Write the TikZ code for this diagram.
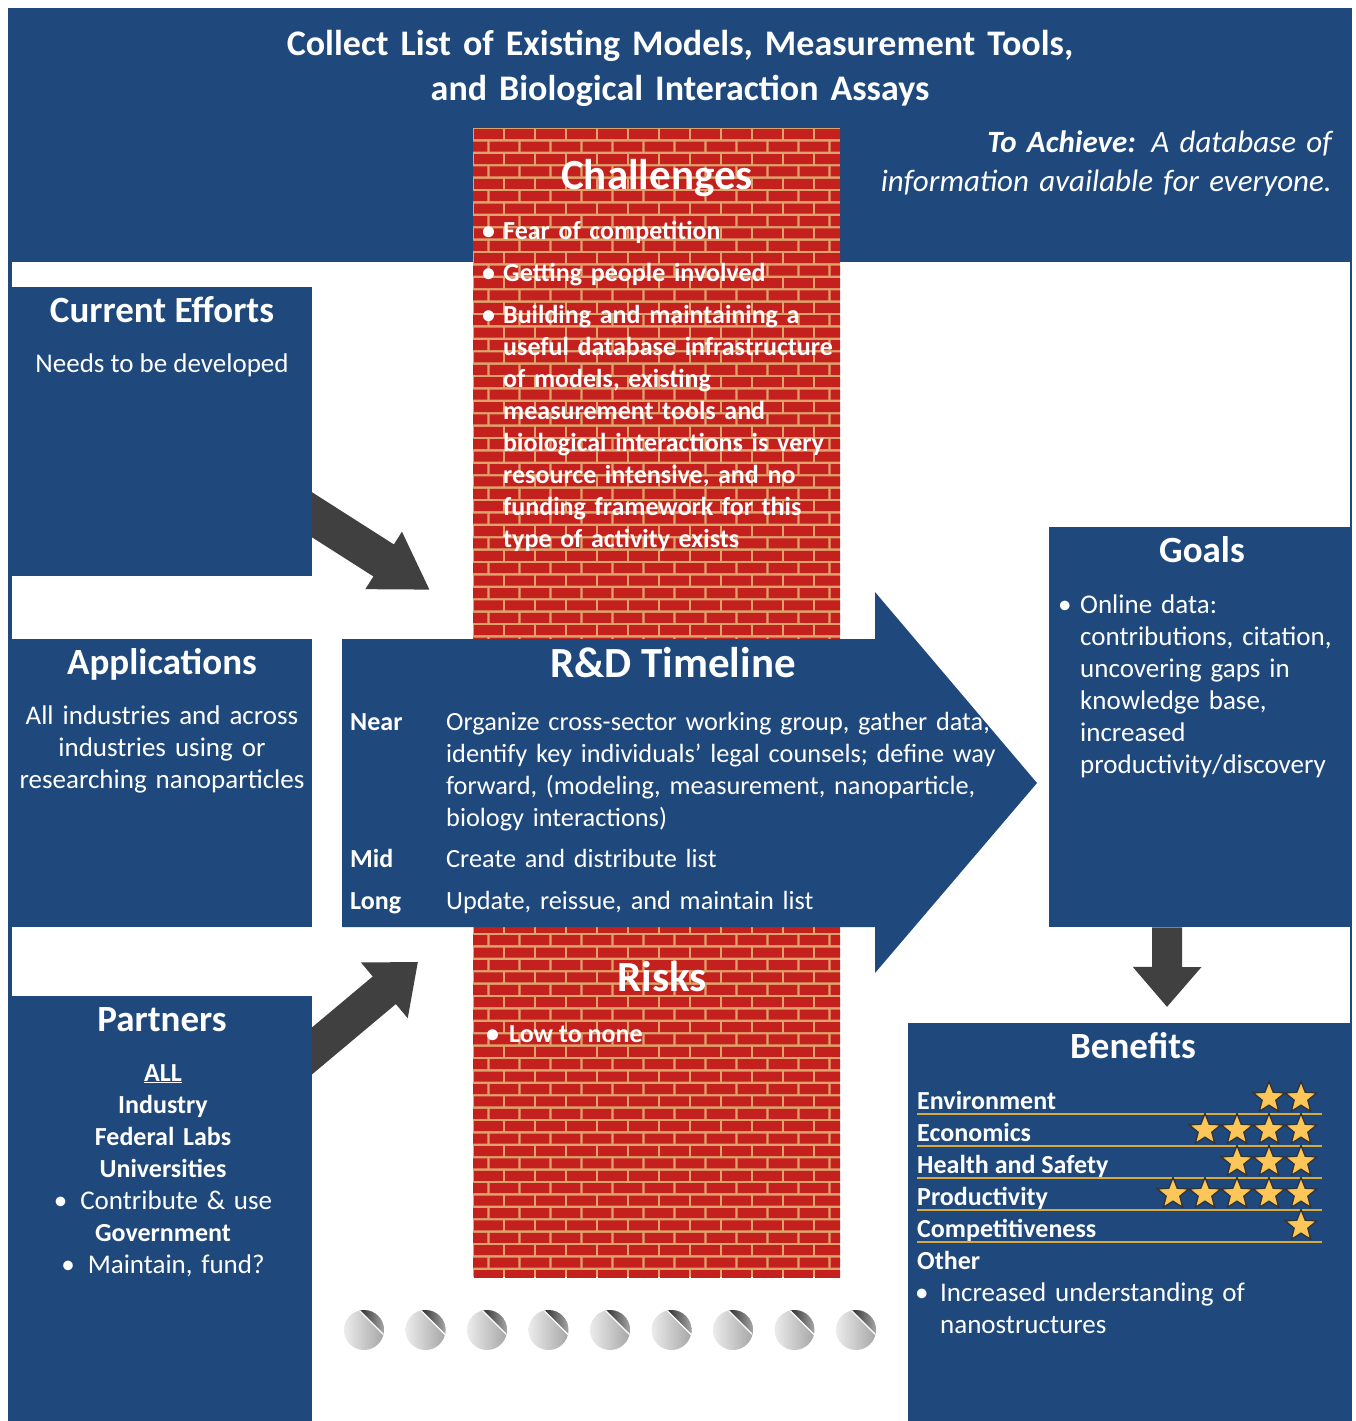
\documentclass[tikz,border=0pt]{standalone}
\usepackage{fontspec}
\setmainfont{Carlito}
\usetikzlibrary{arrows.meta,shapes.geometric}

\definecolor{navy}{RGB}{31,73,125}
\definecolor{brickred}{RGB}{196,32,30}
\definecolor{mortar}{RGB}{222,162,108}
\definecolor{arrowgray}{RGB}{64,64,64}
\definecolor{stargold}{RGB}{252,198,88}
\definecolor{rulegold}{RGB}{214,170,60}

\newcommand{\bigfont}{\fontsize{43}{50}\selectfont\bfseries}
\newcommand{\hdfont}{\fontsize{37}{44}\selectfont\bfseries}
\newcommand{\txtfont}{\fontsize{27}{32}\selectfont}
\newcommand{\boldfont}{\fontsize{26}{32}\selectfont\bfseries}
\newcommand{\bul}[1][21pt]{\makebox[#1][l]{\textbullet}}

\begin{document}
\begin{tikzpicture}[x=1pt,y=-1pt,
  panel/.style={fill=navy,anchor=north west,inner sep=0pt},
  heading/.style={text=white,font=\hdfont,anchor=base,inner sep=0pt},
  bigheading/.style={text=white,font=\bigfont,anchor=base,inner sep=0pt},
  body/.style={text=white,font=\txtfont,inner sep=0pt},
  fatarrow/.style={draw=arrowgray},
  benstar/.style={star,star points=5,star point ratio=2.3,minimum size=33pt,inner sep=0pt,fill=stargold,draw=black!80,line width=1.3pt}]
  \useasboundingbox (0,0) rectangle (1356,1421);
  \fill[white] (0,0) rectangle (1356,1421);

  % Banner and frame
  \node[panel,minimum width=1342pt,minimum height=254pt] (banner) at (8,8) {};
  \draw[navy,line width=4pt] (10,8) -- (10,1421);
  \draw[navy,line width=2.5pt] (1351,8) -- (1351,1421);
  \node[body,font=\fontsize{36}{45}\selectfont\bfseries,text width=1100pt,align=center,anchor=base] (title) at (680,56)
    {Collect List of Existing Models, Measurement Tools,\\ and Biological Interaction Assays};
  \node[body,font=\fontsize{31}{39}\selectfont\itshape,text width=600pt,align=right,anchor=base east] (achieve) at (1332,152)
    {{\bfseries To Achieve:} A database of\\ information available for everyone.};

  % Brick wall
  \begin{scope}
    \clip (473,128) rectangle (840,1277);
    \fill[mortar] (473,128) rectangle (840,1277);
    \foreach \r in {0,...,92}{
      \pgfmathsetmacro{\yy}{128+12.4*\r}
      \pgfmathsetmacro{\xo}{473-31+mod(\r,2)*15.5}
      \fill[brickred] \foreach \c in {0,...,13}{ ({\xo+31*\c+1.2},{\yy+1.2}) rectangle ++(28.6,10) };
    }
  \end{scope}

  % Challenges and risks
  \node[bigheading] (chal) at (657,189) {Challenges};
  \node[body,font=\boldfont,text width=360pt,align=left,anchor=base west] (chaltx) at (482,239)
    {\bul Fear of competition\\[10pt]
     \bul Getting people involved\\[10pt]
     \bul Building and maintaining a\\
     \hspace*{21pt}useful database infrastructure\\
     \hspace*{21pt}of models, existing\\
     \hspace*{21pt}measurement tools and\\
     \hspace*{21pt}biological interactions is very\\
     \hspace*{21pt}resource intensive, and no\\
     \hspace*{21pt}funding framework for this\\
     \hspace*{21pt}type of activity exists};
  \node[bigheading] (risk) at (662,991) {Risks};
  \node[body,font=\boldfont,anchor=base west] (risktx) at (486,1042) {\bul[23pt]Low to none};

  % R&D timeline arrow
  \fill[navy] (342,639) -- (875,639) -- (875,592) -- (1037,783) -- (875,973) -- (875,927) -- (342,927) -- cycle;
  \node[bigheading] (rdt) at (673,677) {R\&D Timeline};
  \node[body,font=\fontsize{26.3}{32}\selectfont,text width=680pt,align=left,anchor=base west] (near) at (350,730)
    {\makebox[96pt][l]{\boldfont Near}Organize cross-sector working group, gather data,\\
     \hspace*{96pt}identify key individuals’ legal counsels; define way\\
     \hspace*{96pt}forward, (modeling, measurement, nanoparticle,\\
     \hspace*{96pt}biology interactions)\\[9pt]
     \makebox[96pt][l]{\boldfont Mid}Create and distribute list\\[10pt]
     \makebox[96pt][l]{\boldfont Long}Update, reissue, and maintain list};

  % Left panels
  \node[panel,minimum width=302pt,minimum height=289pt] (cur) at (10,287) {};
  \node[heading] (curt) at (162,322) {Current Efforts};
  \node[body,anchor=base] (curtx) at (162,372) {Needs to be developed};

  \node[panel,minimum width=302pt,minimum height=288pt] (app) at (10,639) {};
  \node[heading] (appt) at (162,674) {Applications};
  \node[body,text width=300pt,align=center,anchor=base] (apptx) at (162,724)
    {All industries and across\\ industries using or\\ researching nanoparticles};

  \node[panel,minimum width=302pt,minimum height=430pt] (prt) at (10,996) {};
  \node[heading] (prtt) at (162,1031) {Partners};
  \node[body,font=\boldfont,text width=300pt,align=center,anchor=base] (prttx) at (163,1081)
    {\underline{ALL}\\ Industry\\ Federal Labs\\ Universities\\
     {\txtfont\mdseries\textbullet\hspace{13pt}Contribute \& use}\\ Government\\
     {\txtfont\mdseries\textbullet\hspace{13pt}Maintain, fund?}};

  % Right panels
  \node[panel,minimum width=303pt,minimum height=400pt] (goals) at (1049,527) {};
  \node[heading] (goalst) at (1202,562) {Goals};
  \node[body,text width=290pt,align=left,anchor=base west] (goalstx) at (1058,613)
    {\bul[22pt]Online data:\\
     \hspace*{22pt}contributions, citation,\\
     \hspace*{22pt}uncovering gaps in\\
     \hspace*{22pt}knowledge base,\\
     \hspace*{22pt}increased\\
     \hspace*{22pt}productivity/discovery};

  \node[panel,minimum width=444pt,minimum height=400pt] (ben) at (908,1023) {};
  \node[heading] (bent) at (1133,1058) {Benefits};
  \foreach \lab/\n [count=\r] in {Environment/2,Economics/4,Health and Safety/3,Productivity/5,Competitiveness/1}{
    \node[body,font=\boldfont,anchor=base west] (bn\r) at (917,{1077+32*\r}) {\lab};
    \draw[rulegold,line width=1.5pt] (917,{1082+32*\r}) -- (1322,{1082+32*\r});
    \foreach \k in {1,...,\n}
      \node[benstar] (st\r\k) at ({1333-32*\k},{1066+32*\r}) {};
  }
  \node[body,font=\boldfont,anchor=base west] (oth) at (917,1269) {Other};
  \node[body,text width=400pt,align=left,anchor=base west] (othtx) at (915,1301)
    {\bul[25pt]Increased understanding of\\ \hspace*{25pt}nanostructures};

  % Arrows
  \coordinate (ceTip) at (430,590);
  \coordinate (ptTip) at (418,962);
  \coordinate (glTip) at (1167,1007);
  \begin{scope}
    \clip (312,0) rectangle (1356,1421);
    \draw[fatarrow,line width=38pt,-{Triangle[width=64pt,length=55pt]}] ([xshift=-24pt,yshift=-68pt]cur.east) -- (ceTip);
    \draw[fatarrow,line width=36pt,-{Triangle[width=70pt,length=44pt]}] ([xshift=-22pt,yshift=-73pt]prt.north east) -- (ptTip);
  \end{scope}
  \draw[fatarrow,line width=30pt,-{Triangle[width=66pt,length=40pt]}] ([xshift=-33.5pt]goals.south) -- (glTip);

  % Screw heads
  \foreach \i in {0,...,8}{
    \begin{scope}[shift={({364+61.5*\i},1330)}]
      \shade[left color=gray!15,right color=gray!70] (0,0) circle (20pt);
      \clip (0,0) circle (20pt);
      \shade[left color=gray!30!black,right color=gray!65] (-6,-21) -- (21,6) -- (21,-21) -- cycle;
      \draw[white,line width=1.2pt] (-6,-21) -- (21,6);
    \end{scope}
  }
\end{tikzpicture}
\end{document}
